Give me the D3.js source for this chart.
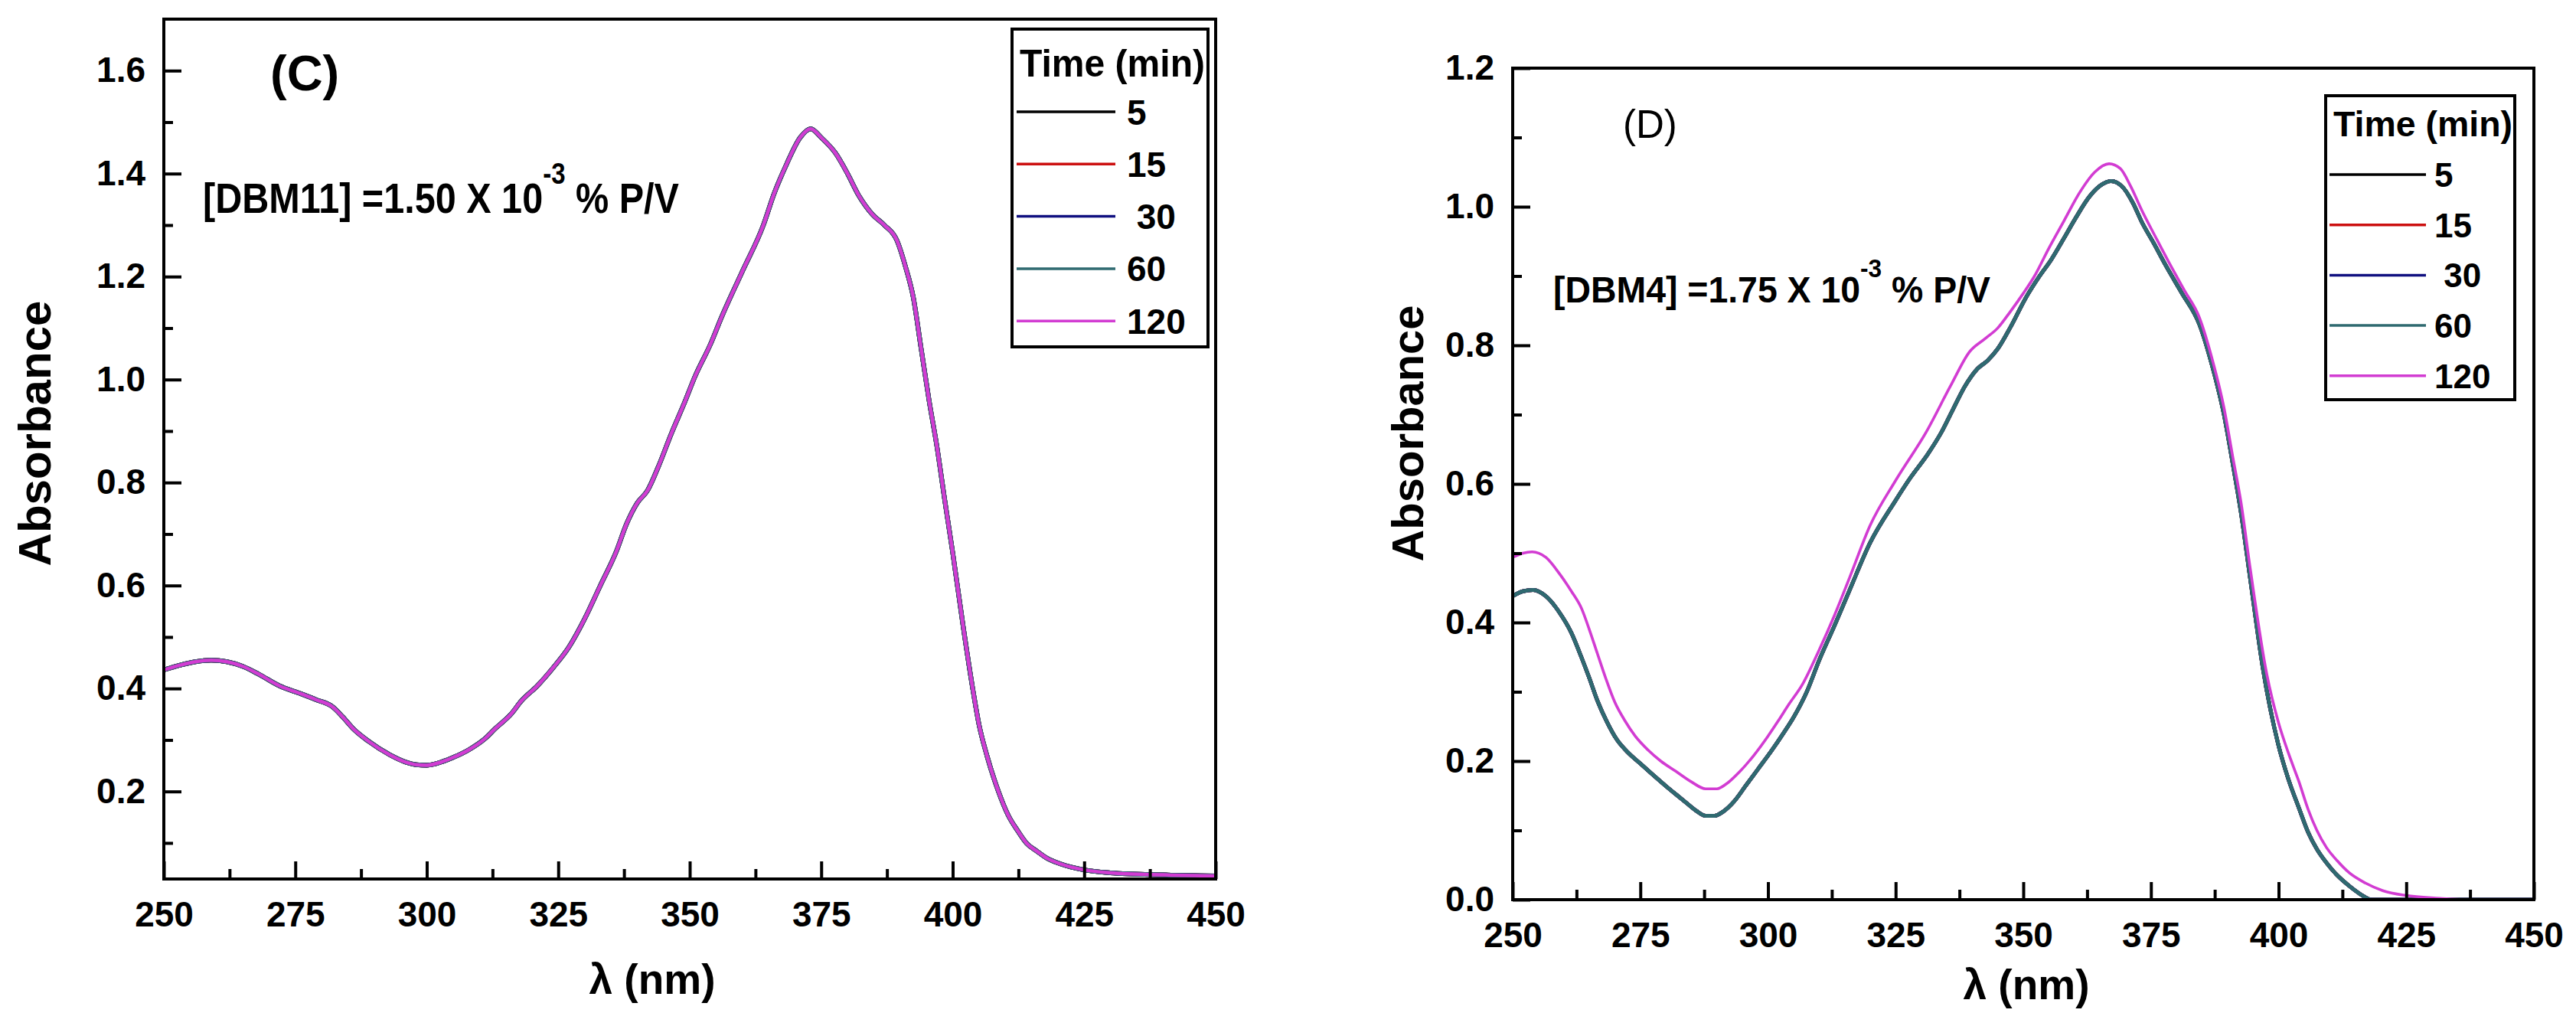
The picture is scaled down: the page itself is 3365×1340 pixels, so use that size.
<!DOCTYPE html>
<html>
<head>
<meta charset="utf-8">
<script src="https://cdn.jsdelivr.net/npm/d3@7"></script>
<style>
    body { margin: 0; background: #fff; }
    text { font-family: "Liberation Sans", Arial, sans-serif; fill: #000; }
</style>
</head>
<body>
<div class="dm-container-graph"></div>
<script>
(function(){

    // ---- data ----
    var timeLabels = ["5", "15", " 30", "60", "120"]
    var timeColors = ["#000000", "#cc1010", "#101080", "#2f6a70", "#d23cd2"]

    var xTicks = [250, 275, 300, 325, 350, 375, 400, 425, 450]

    // panel (C): the five traces coincide
    var cWavelength = [250, 253, 256, 259, 262, 265, 268, 272, 276, 279, 282, 284, 286, 289, 293, 296, 298, 300,
        303, 305, 308, 311, 313, 316, 318, 321, 324, 327, 330, 333, 336, 338, 340, 342, 344, 346.5, 349, 351,
        354, 356, 360, 364, 366, 368.4, 371, 373, 375, 377.7, 380, 382, 384.8, 387, 389.4, 391, 392.5, 394,
        395.5, 397, 398.5, 400, 402, 403.8, 405, 406.5, 408.7, 410.5, 412.4, 414, 416, 418, 420.6, 424.8,
        430, 440, 450]
    var cAbsorbance = [0.436, 0.445, 0.452, 0.455, 0.452, 0.443, 0.428, 0.405, 0.390, 0.378, 0.365, 0.345,
        0.322, 0.297, 0.271, 0.257, 0.252, 0.251, 0.258, 0.266, 0.281, 0.302, 0.322, 0.350, 0.376, 0.405,
        0.440, 0.480, 0.535, 0.600, 0.665, 0.720, 0.760, 0.785, 0.830, 0.895, 0.955, 1.006, 1.070, 1.120,
        1.210, 1.300, 1.360, 1.418, 1.470, 1.487, 1.470, 1.440, 1.400, 1.360, 1.320, 1.300, 1.270, 1.220,
        1.160, 1.060, 0.960, 0.870, 0.765, 0.664, 0.520, 0.400, 0.330, 0.270, 0.200, 0.155, 0.123, 0.100,
        0.084, 0.070, 0.059, 0.048, 0.042, 0.038, 0.036]
    var cTraces = [cAbsorbance, cAbsorbance, cAbsorbance, cAbsorbance, cAbsorbance]
    var cTicksY = [0.2, 0.4, 0.6, 0.8, 1.0, 1.2, 1.4, 1.6]

    // panel (D): 5, 15, 30 and 60 min coincide, 120 min sits a little higher
    var dWavelengthA = [250, 252, 254, 256.5, 259.2, 261.5, 263.4, 265, 266.6, 268.5, 270.4, 272.5, 274.9,
        277.5, 280, 282.3, 284.3, 286, 287.8, 289.5, 291.2, 293.5, 295.6, 298, 300.7, 303, 305, 307.6, 310,
        313, 316, 320, 324.9, 328, 331.3, 334, 336.2, 338.5, 341, 343, 345, 347.4, 350.6, 353, 355.5, 358,
        360.2, 363, 365, 367.2, 369.5, 371.5, 373.2, 375.5, 378, 381, 384.5, 387, 389.3, 391, 392.6, 394.5,
        396.9, 399.9, 402, 404, 405.8, 407.5, 409.4, 411.5, 413.8, 416, 418.2, 450]
    var dAbsorbanceA = [0.438, 0.445, 0.447, 0.438, 0.414, 0.385, 0.351, 0.320, 0.287, 0.256, 0.231, 0.213,
        0.197, 0.180, 0.164, 0.150, 0.138, 0.128, 0.121, 0.121, 0.127, 0.143, 0.164, 0.188, 0.215, 0.240,
        0.263, 0.300, 0.345, 0.395, 0.447, 0.515, 0.575, 0.610, 0.643, 0.675, 0.707, 0.740, 0.766, 0.778,
        0.795, 0.825, 0.870, 0.898, 0.924, 0.955, 0.983, 1.015, 1.030, 1.037, 1.028, 1.005, 0.978, 0.948,
        0.914, 0.876, 0.830, 0.770, 0.700, 0.630, 0.560, 0.460, 0.335, 0.225, 0.172, 0.132, 0.097, 0.073,
        0.053, 0.035, 0.020, 0.008, 0.000, 0.000]
    var dWavelength120 = [250, 252, 253.8, 256.5, 259.2, 261.5, 263.5, 265, 266.6, 268.2, 270, 272, 274,
        276.5, 279, 282, 285, 287.8, 290, 292, 294.5, 297.2, 300, 302, 304.1, 306.7, 310, 313, 316, 320, 325,
        331, 336, 339.4, 342.6, 345, 347.4, 350, 352.2, 355, 358, 361, 364, 366.8, 369, 371, 373.2, 376,
        378.5, 381.5, 384.5, 387, 389.3, 391, 392.6, 394.5, 397.7, 400, 402, 404, 405.8, 407.5, 409.4, 411.5,
        413.8, 417, 420.4, 425, 431.6, 436, 450]
    var dAbsorbance120 = [0.494, 0.500, 0.502, 0.494, 0.470, 0.445, 0.420, 0.390, 0.355, 0.320, 0.285,
        0.258, 0.236, 0.216, 0.200, 0.185, 0.170, 0.160, 0.160, 0.168, 0.185, 0.208, 0.236, 0.258, 0.282,
        0.310, 0.360, 0.410, 0.465, 0.540, 0.605, 0.675, 0.745, 0.790, 0.810, 0.825, 0.848, 0.875, 0.900,
        0.940, 0.980, 1.020, 1.050, 1.062, 1.055, 1.030, 0.995, 0.955, 0.920, 0.880, 0.840, 0.780, 0.710,
        0.640, 0.575, 0.475, 0.325, 0.255, 0.210, 0.170, 0.130, 0.100, 0.075, 0.056, 0.039, 0.024, 0.013,
        0.006, 0.002, 0.000, 0.000]
    var dTraces = [
        [dWavelengthA, dAbsorbanceA], [dWavelengthA, dAbsorbanceA], [dWavelengthA, dAbsorbanceA],
        [dWavelengthA, dAbsorbanceA], [dWavelength120, dAbsorbance120]]
    var dTicksY = [0.0, 0.2, 0.4, 0.6, 0.8, 1.0, 1.2]


    var width = 3365, height = 1340

    var svg = d3.select(".dm-container-graph").append("svg")
        .attr("width", width)
        .attr("height", height)

    var panels = [
        {
            id: "c",
            left: 214, right: 1588, top: 25, bottom: 1148,
            yDomain: [0.03, 1.70],
            yTicks: cTicksY,
            traces: cTraces.map(function(t) { return d3.zip(cWavelength, t) }),
            widths: [6, 6, 6, 6, 4.5],
            letter: "(C)", letterX: 353, letterY: 118, letterSize: 65, letterWeight: "bold",
            note: "[DBM11] =1.50 X 10", noteX: 265, noteY: 278, noteSize: 56, noteLength: 622,
            legend: { x: 1322, y: 38, w: 256, h: 415, titleY: 100, titleSize: 50, titleLength: 242,
                      firstY: 146, step: 68.3, lineX0: 1328, lineX1: 1457, labelX: 1472, labelSize: 46 },
            yTitleX: 44, yTitleSize: 60,
            xTitleX: 852, xTitleY: 1298
        },
        {
            id: "d",
            left: 1976, right: 3310, top: 89, bottom: 1175,
            yDomain: [0, 1.2],
            yTicks: dTicksY,
            traces: dTraces.map(function(t) { return d3.zip(t[0], t[1]) }),
            widths: [5, 5, 5, 5, 3.6],
            letter: "(D)", letterX: 2120, letterY: 180, letterSize: 51, letterWeight: "normal",
            note: "[DBM4] =1.75 X 10", noteX: 2029, noteY: 395, noteSize: 49, noteLength: 571,
            legend: { x: 3038, y: 125, w: 247, h: 397, titleY: 178, titleSize: 46, titleLength: 234,
                      firstY: 228, step: 65.7, lineX0: 3043, lineX1: 3169, labelX: 3180, labelSize: 44 },
            yTitleX: 1838, yTitleSize: 58,
            xTitleX: 2647, xTitleY: 1305
        }
    ]

    panels.forEach(drawPanel)


    function drawPanel(p) {

        var x = d3.scaleLinear().domain([250, 450]).range([p.left, p.right])
        var y = d3.scaleLinear().domain(p.yDomain).range([p.bottom, p.top])

        var layer = svg.append("g").attr("class", "panel-" + p.id)

        layer.append("clipPath").attr("id", "clip-" + p.id)
            .append("rect")
            .attr("x", p.left).attr("y", p.top)
            .attr("width", p.right - p.left).attr("height", p.bottom - p.top)

        // spectra
        var line = d3.line()
            .x(function(d) { return x(d[0]) })
            .y(function(d) { return y(d[1]) })
            .curve(d3.curveMonotoneX)

        layer.append("g").attr("clip-path", "url(#clip-" + p.id + ")")
            .selectAll("path")
            .data(p.traces)
            .enter().append("path")
            .attr("d", line)
            .attr("fill", "none")
            .attr("stroke", function(d, i) { return timeColors[i] })
            .attr("stroke-width", function(d, i) { return p.widths[i] })
            .attr("stroke-linejoin", "round")

        // minor ticks
        var xMinor = d3.range(262.5, 450, 25)
        var yMinor = d3.range(0.1, p.yDomain[1], 0.2).filter(function(v) { return v > p.yDomain[0] })

        layer.append("g")
            .attr("transform", "translate(0," + p.bottom + ")")
            .call(d3.axisBottom(x).tickValues(xMinor).tickSize(-13).tickSizeOuter(0).tickFormat(""))
            .call(styleAxis)

        layer.append("g")
            .attr("transform", "translate(" + p.left + ",0)")
            .call(d3.axisLeft(y).tickValues(yMinor).tickSize(-12).tickSizeOuter(0).tickFormat(""))
            .call(styleAxis)

        // major ticks and labels
        layer.append("g")
            .attr("transform", "translate(0," + p.bottom + ")")
            .call(d3.axisBottom(x).tickValues(xTicks).tickSize(-23).tickSizeOuter(0)
                .tickPadding(29).tickFormat(d3.format("d")))
            .call(styleAxis)

        layer.append("g")
            .attr("transform", "translate(" + p.left + ",0)")
            .call(d3.axisLeft(y).tickValues(p.yTicks).tickSize(-23).tickSizeOuter(0)
                .tickPadding(24).tickFormat(d3.format(".1f")))
            .call(styleAxis)

        // frame
        layer.append("rect")
            .attr("x", p.left).attr("y", p.top)
            .attr("width", p.right - p.left).attr("height", p.bottom - p.top)
            .attr("fill", "none")
            .attr("stroke", "#000")
            .attr("stroke-width", 4)

        // axis titles
        layer.append("text")
            .attr("transform", "translate(" + p.yTitleX + ",566) rotate(-90)")
            .attr("dy", "0.36em")
            .attr("text-anchor", "middle")
            .attr("font-size", p.yTitleSize)
            .attr("font-weight", "bold")
            .text("Absorbance")

        layer.append("text")
            .attr("x", p.xTitleX).attr("y", p.xTitleY)
            .attr("text-anchor", "middle")
            .attr("font-size", 55)
            .attr("font-weight", "bold")
            .text("λ (nm)")

        // panel letter
        layer.append("text")
            .attr("x", p.letterX).attr("y", p.letterY)
            .attr("font-size", p.letterSize)
            .attr("font-weight", p.letterWeight)
            .text(p.letter)

        // concentration note
        var note = layer.append("text")
            .attr("x", p.noteX).attr("y", p.noteY)
            .attr("font-size", p.noteSize)
            .attr("font-weight", "bold")
            .attr("textLength", p.noteLength)
            .attr("lengthAdjust", "spacingAndGlyphs")
        note.append("tspan").text(p.note)
        note.append("tspan").attr("dy", -0.68 * p.noteSize).attr("font-size", 0.68 * p.noteSize).text("-3")
        note.append("tspan").attr("dy", 0.68 * p.noteSize).text(" % P/V")

        drawLegend(layer, p)
    }

    function drawLegend(layer, p) {
        var lg = p.legend
        var g = layer.append("g").attr("class", "legend")

        g.append("rect")
            .attr("x", lg.x).attr("y", lg.y)
            .attr("width", lg.w).attr("height", lg.h)
            .attr("fill", "#fff")
            .attr("stroke", "#000")
            .attr("stroke-width", 4)

        g.append("text")
            .attr("x", lg.x + 10).attr("y", lg.titleY)
            .attr("font-size", lg.titleSize)
            .attr("font-weight", "bold")
            .attr("textLength", lg.titleLength)
            .attr("lengthAdjust", "spacingAndGlyphs")
            .text("Time (min)")

        var item = g.selectAll(".item")
            .data(timeLabels)
            .enter().append("g")
            .attr("class", "item")
            .attr("transform", function(d, i) { return "translate(0," + (lg.firstY + i * lg.step) + ")" })

        item.append("line")
            .attr("x1", lg.lineX0).attr("x2", lg.lineX1)
            .attr("stroke", function(d, i) { return timeColors[i] })
            .attr("stroke-width", 3.5)

        item.append("text")
            .attr("x", lg.labelX)
            .attr("y", 0.36 * lg.labelSize)
            .attr("font-size", lg.labelSize)
            .attr("font-weight", "bold")
            .style("white-space", "pre")
            .text(function(d) { return d })
    }

    function styleAxis(g) {
        g.select(".domain").remove()
        g.selectAll(".tick line").attr("stroke", "#000").attr("stroke-width", 4)
        g.selectAll(".tick text")
            .attr("fill", "#000")
            .attr("font-size", 46)
            .attr("font-weight", "bold")
            .attr("font-family", "\"Liberation Sans\", Arial, sans-serif")
    }

})();
</script>
</body>
</html>
